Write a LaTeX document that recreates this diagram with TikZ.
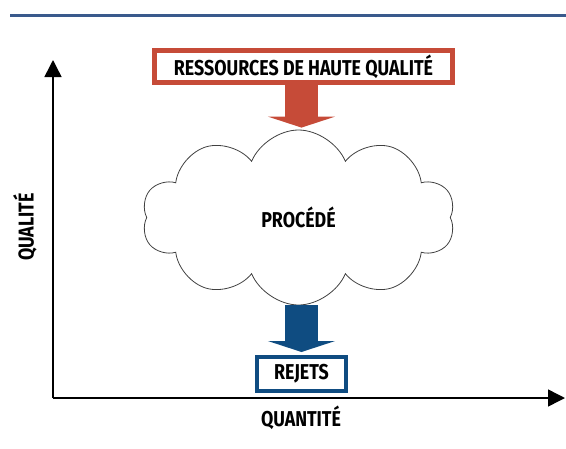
\documentclass[tikz,border=0pt]{standalone}
\usepackage{fontspec}
\setmainfont{Fira Sans}[FakeStretch=0.83]
\usepackage{tikz}
\usetikzlibrary{shapes.symbols,arrows.meta}

\definecolor{topblue}{HTML}{3A5A8C}
\definecolor{resred}{HTML}{C64B38}
\definecolor{rejblue}{HTML}{0F4C81}

\begin{document}
\begin{tikzpicture}[x=1pt,y=-1pt,
        lbl/.style={font=\fontsize{21.5}{25}\selectfont\bfseries},
        axis/.style={line width=1.5pt,-{Triangle[width=17pt,length=17pt]}},
        blockarrow/.style={line width=33pt,-{Triangle[width=67pt,length=11pt]}}
    ]
            \useasboundingbox (0,0) rectangle (566,448);
            \draw[topblue,line width=3pt] (10,15) -- (566,15);
            % axes
            \coordinate (origin) at (53,398);
            \coordinate (ytip) at (53,60);
            \coordinate (xtip) at (565,398);
            \draw[axis] (origin) -- (ytip);
            \draw[axis] (origin) -- (xtip);
            \node[lbl,rotate=90] (qualite) at (25,227) {QUALITÉ};
            \node[lbl] (quantite) at (301,418) {QUANTITÉ};
            % boxes and cloud
            \node[lbl,draw=resred,line width=5pt,minimum width=298pt,minimum height=32pt,inner sep=0pt]
                (ressources) at (303.5,66.5) {RESSOURCES DE HAUTE QUALITÉ};
            \node[lbl,cloud,draw=black!75,line width=0.8pt,cloud puffs=10,cloud puff arc=135,
                cloud ignores aspect,minimum width=313pt,minimum height=175pt,inner sep=0pt]
                (procede) at (298.5,217.5) {PROCÉDÉ};
            \node[lbl,draw=rejblue,line width=4pt,minimum width=89pt,minimum height=34pt,inner sep=0pt]
                (rejets) at (301.5,374) {REJETS};
            % block arrows
            \draw[blockarrow,resred,shorten >=2pt] (ressources.south -| rejets.north) -- (procede.north -| rejets.north);
            \draw[blockarrow,rejblue,shorten >=3pt] (procede.south -| rejets.north) -- (rejets.north);
\end{tikzpicture}
\end{document}
